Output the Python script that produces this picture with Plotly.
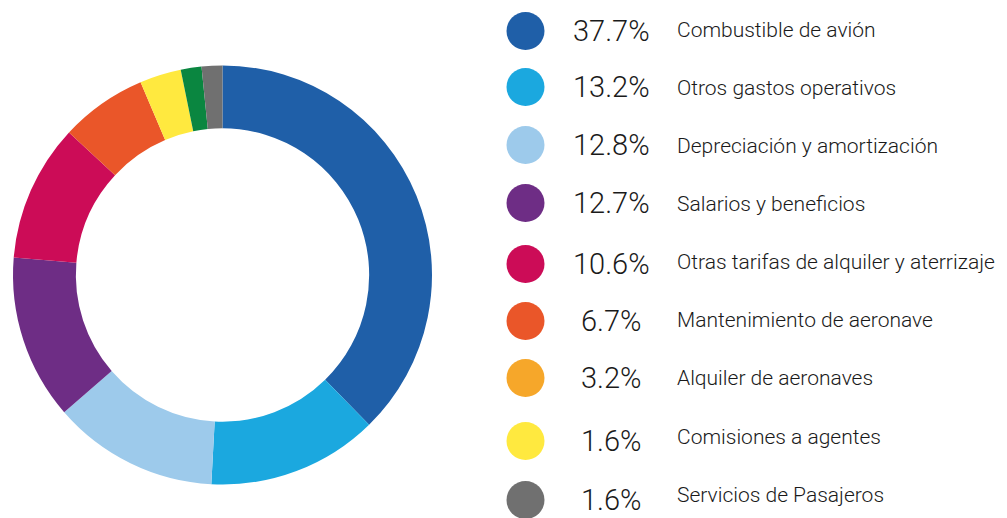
import plotly.graph_objects as go

# ---- data ----
labels = [
    "Combustible de avión",
    "Otros gastos operativos",
    "Depreciación y amortización",
    "Salarios y beneficios",
    "Otras tarifas de alquiler y aterrizaje",
    "Mantenimiento de aeronave",
    "Alquiler de aeronaves",
    "Comisiones a agentes",
    "Servicios de Pasajeros",
]
values = [37.7, 13.2, 12.8, 12.7, 10.6, 6.7, 3.2, 1.6, 1.6]
pct_text = ["37.7%", "13.2%", "12.8%", "12.7%", "10.6%", "6.7%", "3.2%", "1.6%", "1.6%"]

# colours used in the ring and in the legend (they differ in the original)
ring_colors = ["#1F5FA8", "#1BA8DF", "#9DCAEB", "#6E2D85", "#CC0C57",
               "#EA5629", "#FFE93F", "#0A8640", "#707070"]
legend_colors = ["#1F5FA8", "#1BA8DF", "#9DCAEB", "#6E2D85", "#CC0C57",
                 "#EA5629", "#F6A72A", "#FFE93F", "#707070"]

# ---- layout constants (pixels) ----
W, H = 1007, 518
row_y = [31, 87, 145, 203, 264, 321, 378, 441, 500]
label_y = [30, 88, 146, 204, 262, 320, 378, 437, 495]
circle_x = 525.5
pct_x = 611
label_x = 675
cx, cy, R = 222.5, 275, 209.5

fig = go.Figure()

fig.add_trace(go.Pie(
    values=values,
    labels=labels,
    sort=False,
    direction="clockwise",
    rotation=0,
    hole=0.70,
    textinfo="none",
    hoverinfo="label+percent",
    marker=dict(colors=ring_colors, line=dict(color="white", width=0)),
    domain=dict(x=[(cx - R) / W, (cx + R) / W], y=[1 - (cy + R) / H, 1 - (cy - R) / H]),
    showlegend=False,
))

fig.add_trace(go.Scatter(
    x=[circle_x] * len(labels),
    y=row_y,
    mode="markers",
    marker=dict(size=38, color=legend_colors, line=dict(width=0)),
    hoverinfo="skip",
    showlegend=False,
))

for i in range(len(labels)):
    fig.add_annotation(x=pct_x, y=row_y[i], xref="x", yref="y", text=pct_text[i],
                       showarrow=False, xanchor="center", yanchor="middle",
                       font=dict(family="Roboto", size=29, color="#1a1a1a", weight=300))
    fig.add_annotation(x=label_x, y=label_y[i], xref="x", yref="y", text=labels[i],
                       showarrow=False, xanchor="left", yanchor="middle",
                       font=dict(family="Roboto", size=21, color="#1a1a1a", weight=300))

fig.update_layout(
    width=W, height=H,
    margin=dict(l=0, r=0, t=0, b=0),
    paper_bgcolor="white", plot_bgcolor="rgba(0,0,0,0)",
    xaxis=dict(range=[0, W], visible=False, fixedrange=True, domain=[0, 1]),
    yaxis=dict(range=[H, 0], visible=False, fixedrange=True, domain=[0, 1]),
)

fig.write_html("out.html", config={"displayModeBar": False},
               post_script="document.body.style.margin='0';document.body.style.overflow='hidden';")
